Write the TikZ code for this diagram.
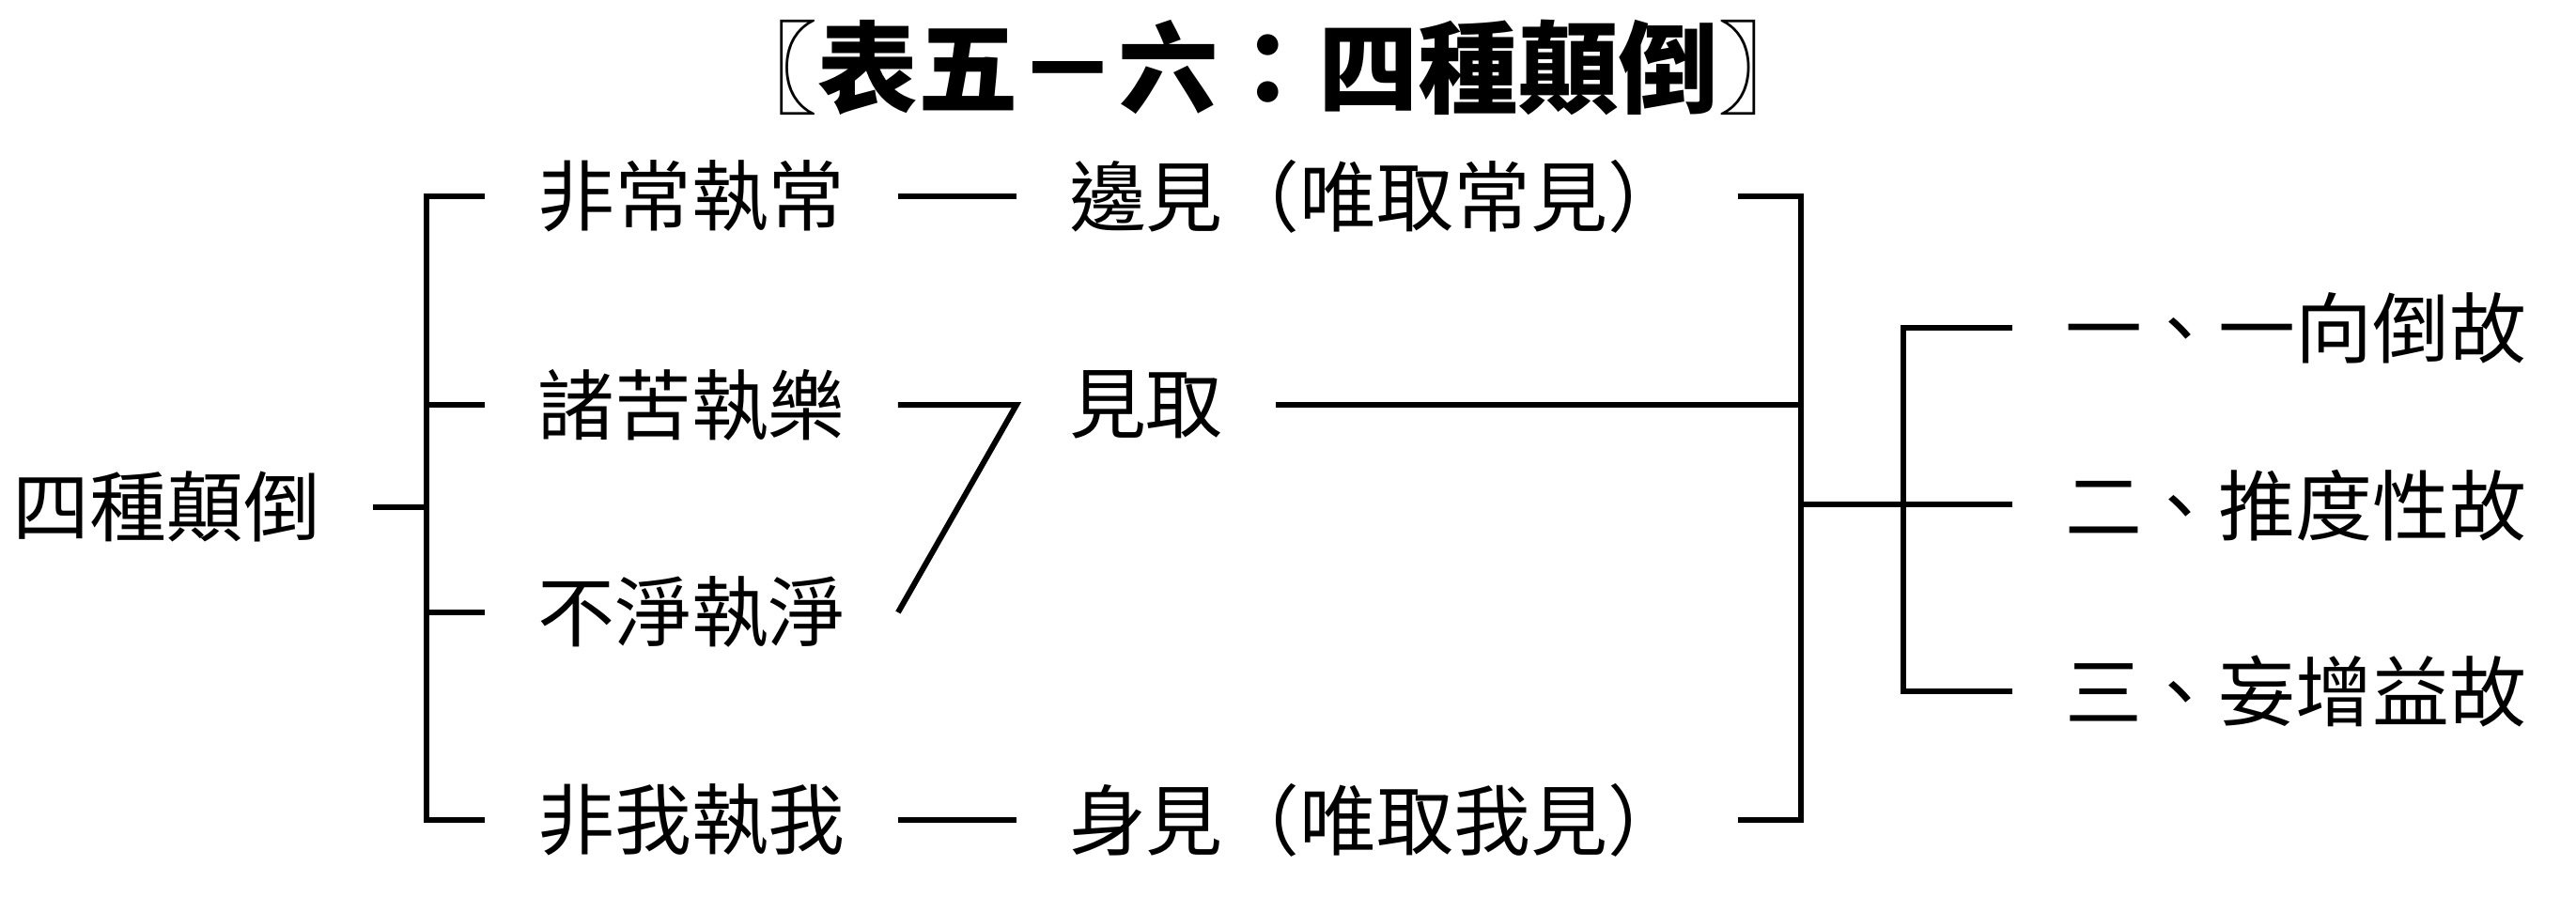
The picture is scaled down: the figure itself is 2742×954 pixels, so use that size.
\documentclass[tikz,border=0pt]{standalone}
\usepackage{fontspec}
\setmainfont{Noto Sans CJK TC}
\begin{document}
\begin{tikzpicture}[x=0.01cm, y=-0.01cm,
		txt/.style={inner sep=0pt, outer xsep=0.56cm, font=\fontsize{23.3}{28}\selectfont},
		line/.style={line width=0.06cm}]
	\useasboundingbox (0,0) rectangle (2742,954);
	\node[inner sep=0pt, font=\fontsize{30.3}{36}\selectfont\bfseries] (title) at (1350,72) {〖表五－六：四種顛倒〗};

	\begin{scope}
		\node[txt] (root) at (177.5,539.5) {四種顛倒};
		\foreach \y/\l/\t in {209/a/非常執常, 431/b/諸苦執樂, 652/c/不淨執淨, 873/d/非我執我} {
				\node[txt] (\l) at (736,\y) {\t};
			}
		\coordinate (lj) at (454,539.5);
		\draw[line] (root.east) -- (lj);
		\draw[line] (a.west) -- (a.west -| lj) -- (d.west -| lj) -- (d.west);
		\draw[line] (b.west) -- (b.west -| lj);
		\draw[line] (c.west) -- (c.west -| lj);
	\end{scope}

	\begin{scope}
		\node[txt, anchor=west] (ea) at (1082,209) {邊見（唯取常見）};
		\node[txt, anchor=west] (eb) at (1082,431) {見取};
		\node[txt, anchor=west] (ed) at (1082,873) {身見（唯取我見）};
		\draw[line] (a.east) -- (ea.west);
		\draw[line] (b.east) -- (eb.west) -- (c.east);
		\draw[line] (d.east) -- (ed.west);
	\end{scope}

	\begin{scope}
		\foreach \y/\l/\t in {349/sa/一、一向倒故, 538/sb/二、推度性故, 736/sc/三、妄增益故} {
				\node[txt, anchor=west] (\l) at (2142,\y) {\t};
			}
		\coordinate (rj) at (1917,536.5);
		\coordinate (sj) at (2026,536.5);
		\draw[line] (ea.east) -- (ea.east -| rj) -- (ed.east -| rj) -- (ed.east);
		\draw[line] (eb.east) -- (eb.east -| rj);
		\draw[line] (rj) -- (rj -| sb.west);
		\draw[line] (sa.west) -- (sa.west -| sj) -- (sc.west -| sj) -- (sc.west);
	\end{scope}
\end{tikzpicture}
\end{document}
